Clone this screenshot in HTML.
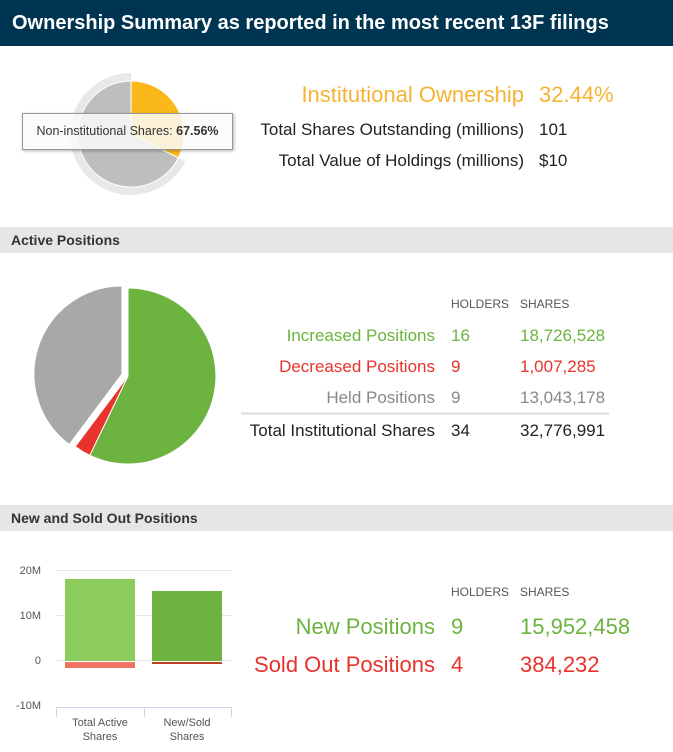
<!DOCTYPE html>
<html><head><style>
body{margin:0;width:673px;height:752px;background:#fff;font-family:"Liberation Sans",Arial,sans-serif;position:relative;overflow:hidden}
.a{position:absolute;white-space:nowrap}
.hdr{position:absolute;left:0;width:673px;background:#e6e6e6;font-weight:bold;font-size:14px;color:#333;line-height:26px;padding-left:11px;box-sizing:border-box}
.r{text-align:right}
</style></head><body>
<div class="a" style="left:0;top:0;width:673px;height:46px;background:#003552;color:#fff;font-weight:bold;font-size:20px;line-height:46px;padding-left:12px;box-sizing:border-box">Ownership Summary as reported in the most recent 13F filings</div>

<svg class="a" style="left:0;top:0" width="673" height="752">
 <path d="M131,73 A61,61 0 1 0 185.4,161.5 L178.3,157.9 A53,53 0 1 1 131,81 Z" fill="#e8e8e8"/>
 <path d="M131,134 L131,81 A53,53 0 0 1 178.3,157.9 Z" fill="#fbb81a" stroke="#fff" stroke-width="1"/>
 <path d="M131,134 L178.3,157.9 A53,53 0 1 1 131,81 Z" fill="#bebebe" stroke="#fff" stroke-width="1"/>
 <path d="M128,376 L128,288 A88,88 0 1 1 89.8,455.3 Z" fill="#6db33f" stroke="#fff" stroke-width="1"/>
 <path d="M128,376 L89.8,455.3 A88,88 0 0 1 75.3,446.5 Z" fill="#e8322b" stroke="#fff" stroke-width="1"/>
 <path d="M122,374 L69.3,444.5 A88,88 0 0 1 122,286 Z" fill="#a8a8a8" stroke="#fff" stroke-width="1"/>
 <g stroke="#e6e6e6" stroke-width="1">
  <line x1="56" y1="570.5" x2="232" y2="570.5"/><line x1="56" y1="615.5" x2="232" y2="615.5"/><line x1="56" y1="660.5" x2="232" y2="660.5"/>
 </g>
 <line x1="56" y1="707.5" x2="232" y2="707.5" stroke="#ccd6eb"/>
 <line x1="56.5" y1="707" x2="56.5" y2="717" stroke="#ccd6eb"/><line x1="144.5" y1="707" x2="144.5" y2="717" stroke="#ccd6eb"/><line x1="231.5" y1="707" x2="231.5" y2="717" stroke="#ccd6eb"/>
 <rect x="65" y="579" width="70" height="82" fill="#8ccc5c"/>
 <rect x="65" y="662" width="70" height="6" fill="#ef7461"/>
 <rect x="152" y="591" width="70" height="70" fill="#6db33f"/>
 <rect x="152" y="662" width="70" height="2" fill="#b6421f"/>
 <g font-size="11" fill="#555" text-anchor="end" font-family="Liberation Sans">
  <text x="41" y="574">20M</text><text x="41" y="619">10M</text><text x="41" y="664">0</text><text x="41" y="709">-10M</text>
 </g>
 <g font-size="11" fill="#555" text-anchor="middle" font-family="Liberation Sans">
  <text x="100" y="726">Total Active</text><text x="100" y="740">Shares</text>
  <text x="187" y="726">New/Sold</text><text x="187" y="740">Shares</text>
 </g>
 <line x1="241" y1="413.5" x2="609" y2="413.5" stroke="#ddd" stroke-width="2"/>
</svg>

<div class="a" style="left:22px;top:113px;width:209px;height:35px;background:rgba(250,250,250,0.85);border:1px solid #999;box-shadow:1px 1px 3px rgba(0,0,0,0.3);font-size:12.5px;line-height:35px;text-align:center;color:#333">Non-institutional Shares: <b>67.56%</b></div>

<div class="a r" style="right:149px;top:82px;font-size:22px;color:#f7b233">Institutional Ownership</div>
<div class="a" style="left:539px;top:82px;font-size:22px;color:#f7b233">32.44%</div>
<div class="a r" style="right:149px;top:120px;font-size:17px;color:#222">Total Shares Outstanding (millions)</div>
<div class="a" style="left:539px;top:120px;font-size:17px;color:#222">101</div>
<div class="a r" style="right:149px;top:151px;font-size:17px;color:#222">Total Value of Holdings (millions)</div>
<div class="a" style="left:539px;top:151px;font-size:17px;color:#222">$10</div>

<div class="hdr" style="top:227px">Active Positions</div>

<div class="a" style="left:451px;top:297px;font-size:12px;color:#555">HOLDERS</div>
<div class="a" style="left:520px;top:297px;font-size:12px;color:#555">SHARES</div>
<div class="a r" style="right:238px;top:326px;font-size:17px;color:#6db33f">Increased Positions</div>
<div class="a" style="left:451px;top:326px;font-size:17px;color:#6db33f">16</div>
<div class="a" style="left:520px;top:326px;font-size:17px;color:#6db33f">18,726,528</div>
<div class="a r" style="right:238px;top:357px;font-size:17px;color:#e8322b">Decreased Positions</div>
<div class="a" style="left:451px;top:357px;font-size:17px;color:#e8322b">9</div>
<div class="a" style="left:520px;top:357px;font-size:17px;color:#e8322b">1,007,285</div>
<div class="a r" style="right:238px;top:388px;font-size:17px;color:#888">Held Positions</div>
<div class="a" style="left:451px;top:388px;font-size:17px;color:#888">9</div>
<div class="a" style="left:520px;top:388px;font-size:17px;color:#888">13,043,178</div>
<div class="a r" style="right:238px;top:421px;font-size:17px;color:#222">Total Institutional Shares</div>
<div class="a" style="left:451px;top:421px;font-size:17px;color:#222">34</div>
<div class="a" style="left:520px;top:421px;font-size:17px;color:#222">32,776,991</div>

<div class="hdr" style="top:505px">New and Sold Out Positions</div>

<div class="a" style="left:451px;top:585px;font-size:12px;color:#555">HOLDERS</div>
<div class="a" style="left:520px;top:585px;font-size:12px;color:#555">SHARES</div>
<div class="a r" style="right:238px;top:614px;font-size:22px;color:#6db33f">New Positions</div>
<div class="a" style="left:451px;top:614px;font-size:22px;color:#6db33f">9</div>
<div class="a" style="left:520px;top:614px;font-size:22px;color:#6db33f">15,952,458</div>
<div class="a r" style="right:238px;top:652px;font-size:22px;color:#e8322b">Sold Out Positions</div>
<div class="a" style="left:451px;top:652px;font-size:22px;color:#e8322b">4</div>
<div class="a" style="left:520px;top:652px;font-size:22px;color:#e8322b">384,232</div>
</body></html>
